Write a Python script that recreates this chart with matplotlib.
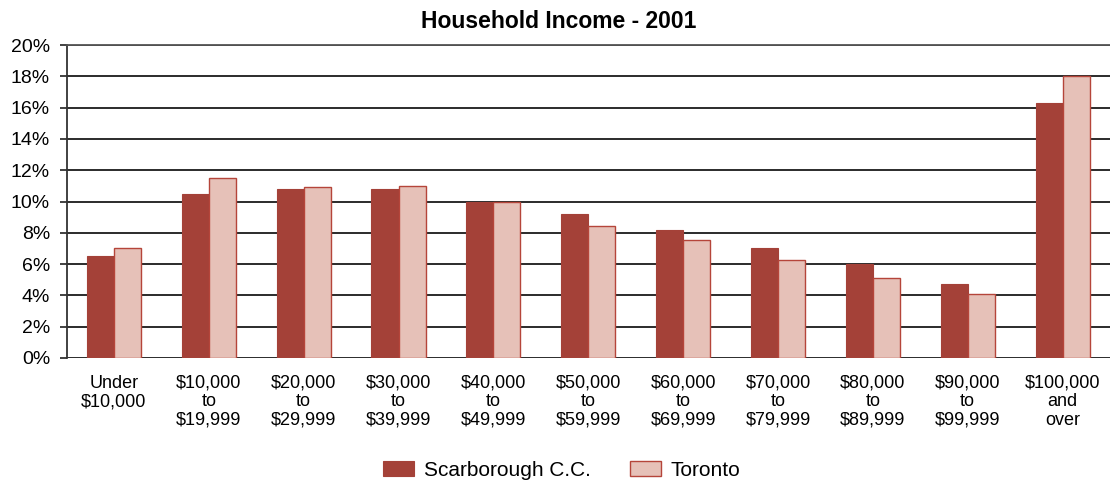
import numpy as np
import matplotlib
matplotlib.use("Agg")
import matplotlib.pyplot as plt
import matplotlib.ticker as ticker

plt.rcParams['font.family'] = ['Liberation Sans', 'DejaVu Sans']

categories = ["Under\n$10,000", "$10,000\nto\n$19,999", "$20,000\nto\n$29,999",
              "$30,000\nto\n$39,999", "$40,000\nto\n$49,999", "$50,000\nto\n$59,999",
              "$60,000\nto\n$69,999", "$70,000\nto\n$79,999", "$80,000\nto\n$89,999",
              "$90,000\nto\n$99,999", "$100,000\nand\nover"]
scarborough = [6.5, 10.5, 10.8, 10.8, 10.0, 9.2, 8.2, 7.0, 6.0, 4.7, 16.3]
toronto = [7.0, 11.5, 10.95, 11.0, 9.95, 8.45, 7.55, 6.25, 5.1, 4.1, 18.0]

fig = plt.figure(figsize=(11.1, 4.82), dpi=100)
ax = fig.add_axes([66.5/1110, 1 - 358/482, 1 - 66.5/1110, (358 - 45)/482])

x = np.arange(len(categories))
w = 0.285
ax.bar(x - w/2, scarborough, w, color='#A44138', edgecolor='#A44138', linewidth=0.8,
       label='Scarborough C.C.', zorder=3)
ax.bar(x + w/2, toronto, w, color='#E6C1B8', edgecolor='#B5453A', linewidth=1.0,
       label='Toronto', zorder=3)

ax.set_xlim(-0.5, len(categories) - 0.5)
ax.set_ylim(0, 20)
ax.set_yticks(range(0, 21, 2))
ax.yaxis.set_major_formatter(ticker.FuncFormatter(lambda v, p: '%d%%' % v))
ax.grid(axis='y', color='#1a1a1a', linewidth=1.3, zorder=0)
ax.set_xticks(x)
ax.set_xticklabels(categories, fontsize=13, linespacing=1.12)
ax.tick_params(axis='x', length=0, pad=12)
ax.tick_params(axis='y', labelsize=14, length=5, width=1.3, color='#333333', pad=6.8)

for s in ['right', 'bottom']:
    ax.spines[s].set_visible(False)
ax.spines['top'].set_color('#555555')
ax.spines['top'].set_linewidth(1.3)
ax.spines['left'].set_color('#333333')
ax.spines['left'].set_linewidth(1.3)

fig.text(0.503, 1 - 22/482, 'Household Income - 2001', ha='center', va='center',
         fontsize=16.5, fontweight='bold')
fig.legend(loc='center', bbox_to_anchor=(0.506, 1 - 470.5/482), ncol=2, frameon=False,
           fontsize=15, handlelength=1.5, handleheight=0.75, handletextpad=0.45,
           columnspacing=1.9, borderpad=0)

fig.savefig('out.png', dpi=100)
